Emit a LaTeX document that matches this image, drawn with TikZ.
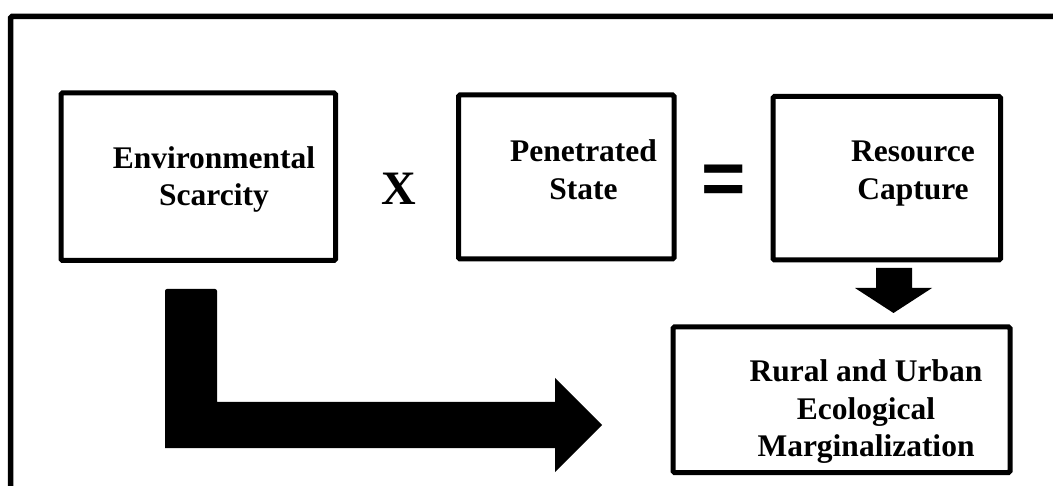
\documentclass[tikz,border=0pt]{standalone}
\usepackage{fontspec}
\setmainfont{Liberation Serif}
\newfontfamily\opfont{Liberation Sans}
\tikzset{
  box/.style={draw, line width=5pt, rounded corners=1.5pt, inner sep=0pt},
  label/.style={inner sep=0pt, align=center, anchor=north,
    font=\fontsize{31.5}{37.5}\selectfont\bfseries},
  blockarrow/.style={fill=black, rounded corners=0pt}
}
\begin{document}
\begin{tikzpicture}[x=1pt, y=-1pt]
  \clip (0,0) rectangle (1053,486);
  \fill[white] (0,0) rectangle (1053,486);
  % outer frame, runs off the page at right and bottom
  \draw[line width=5.5pt, rounded corners=1.5pt] (10.5,500) -- (10.5,16.5) -- (1070,16.5);

  % boxes
  \node[box, minimum width=274.5pt, minimum height=167.5pt] (scarcity) at (198.25,176.75) {};
  \node[box, minimum width=215.5pt, minimum height=164pt] (state) at (566.25,177) {};
  \node[box, minimum width=227.5pt, minimum height=163.5pt] (capture) at (886.75,178.25) {};
  \node[box, minimum width=337pt, minimum height=145.5pt] (margin) at (841.5,399.75) {};

  % texts
  \node[label] (scarcitytext) at (214,146) {Environmental\\Scarcity};
  \node[label] (statetext) at (583.5,139.5) {Penetrated\\State};
  \node[label] (capturetext) at (913,141) {Resource\\Capture};
  \node[label] (margintext) at (866,359.5) {Rural and Urban\\Ecological\\Marginalization};

  % operators
  \node[inner sep=0pt, anchor=base, font=\fontsize{48}{48}\selectfont\bfseries] (times) at (398.5,205) {X};
  \node[inner sep=0pt, anchor=base, font=\opfont\fontsize{76}{76}\selectfont\bfseries] (equals) at (724,205) {=};

  % block arrows
  \fill[blockarrow] (876,268) -- (912,268) -- (912,288) -- (932,288) -- (893.5,313)
    -- (855,288) -- (876,288) -- cycle;
  \fill[blockarrow] (165,291) [rounded corners=2pt] -- (165,289) -- (217,289) [sharp corners] -- (217,402)
    -- (555,402) -- (555,378) -- (602,425) -- (555,472) -- (555,448) -- (165,448) -- cycle;
\end{tikzpicture}
\end{document}
